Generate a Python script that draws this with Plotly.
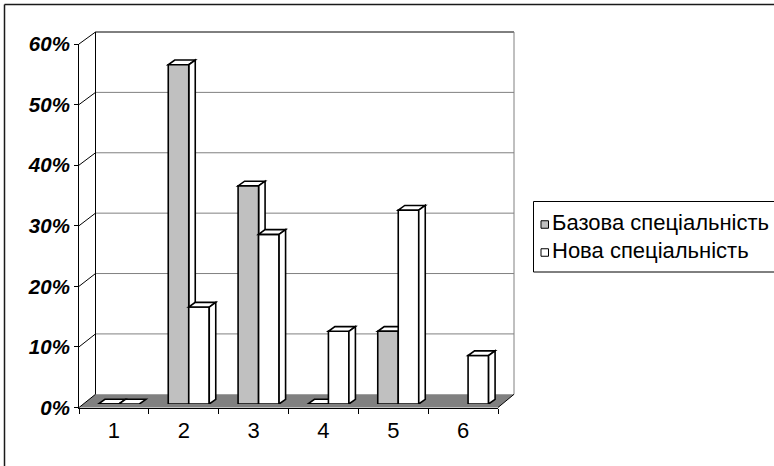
import plotly.graph_objects as go

# ---- data -------------------------------------------------------------
CATEGORIES = ["1", "2", "3", "4", "5", "6"]
SERIES_NAMES = ["Базова спеціальність", "Нова спеціальність"]
BASE_SPECIALTY = [0.0, 0.56, 0.36, 0.0, 0.12, None]
NEW_SPECIALTY = [0.0, 0.16, 0.28, 0.12, 0.32, 0.08]
Y_TICK_VALUES = [0.0, 0.1, 0.2, 0.3, 0.4, 0.5, 0.6]
Y_TICK_LABELS = ["0%", "10%", "20%", "30%", "40%", "50%", "60%"]
SERIES_COLORS = ["#c0c0c0", "#ffffff"]

# ---- geometry (pixels) ------------------------------------------------
W, H = 774, 466
Y_MAX = 0.6
FRONT_LEFT, FRONT_RIGHT = 79.0, 498.0
FRONT_BOTTOM, FRONT_TOP = 407.5, 44.0
BACK_LEFT, BACK_RIGHT = 95.5, 514.0
BACK_BOTTOM, BACK_TOP = 394.3, 32.0
ROW_DX, ROW_DY = 5.0, -3.5          # bar row sits slightly behind the front plane
BAR_DEPTH_X, BAR_DEPTH_Y = 6.5, 4.7  # visible depth of each column
GAP = 0.413
FONT = "Liberation Sans, Arial, sans-serif"

n = len(CATEGORIES)
bar_x = list(range(1, n + 1))
px_per_cat = (FRONT_RIGHT - FRONT_LEFT) / n
px_per_unit = (FRONT_BOTTOM - FRONT_TOP) / Y_MAX
bar_w = (1 - GAP) / 2
ddx = BAR_DEPTH_X / px_per_cat
ddy = BAR_DEPTH_Y / px_per_unit


def px(x):
    return x / W


def py(y):
    return (H - y) / H


def front_y(v):
    return FRONT_BOTTOM - v / Y_MAX * (FRONT_BOTTOM - FRONT_TOP)


def back_y(v):
    return BACK_BOTTOM - v / Y_MAX * (BACK_BOTTOM - BACK_TOP)


def paper_path(points):
    return "M " + " L ".join(f"{px(x):.5f},{py(y):.5f}" for x, y in points) + " Z"


shapes = []

# side wall (left)
shapes.append(dict(type="path", xref="paper", yref="paper", layer="below",
                   path=paper_path([(FRONT_LEFT, FRONT_TOP), (BACK_LEFT, BACK_TOP),
                                    (BACK_LEFT, BACK_BOTTOM), (FRONT_LEFT, FRONT_BOTTOM)]),
                   fillcolor="white", line=dict(width=0)))
# back wall
shapes.append(dict(type="rect", xref="paper", yref="paper", layer="below",
                   x0=px(BACK_LEFT), x1=px(BACK_RIGHT), y0=py(BACK_BOTTOM), y1=py(BACK_TOP),
                   fillcolor="white", line=dict(width=0)))
# floor
shapes.append(dict(type="path", xref="paper", yref="paper", layer="below",
                   path=paper_path([(FRONT_LEFT, FRONT_BOTTOM), (FRONT_RIGHT, FRONT_BOTTOM),
                                    (BACK_RIGHT, BACK_BOTTOM), (BACK_LEFT, BACK_BOTTOM)]),
                   fillcolor="#808080", line=dict(width=0)))


def paper_line(x0, y0, x1, y1, color, width=1, layer="below"):
    shapes.append(dict(type="line", xref="paper", yref="paper", layer=layer,
                       x0=px(x0), y0=py(y0), x1=px(x1), y1=py(y1),
                       line=dict(color=color, width=width)))


# gridlines on the back wall, diagonals on the side wall
for v in Y_TICK_VALUES[1:-1]:
    paper_line(BACK_LEFT, back_y(v), BACK_RIGHT, back_y(v), "#808080")
for v in Y_TICK_VALUES[1:]:
    paper_line(FRONT_LEFT, front_y(v), BACK_LEFT, back_y(v), "#000000")
paper_line(BACK_LEFT, BACK_TOP, BACK_RIGHT, BACK_TOP, "#000000")
paper_line(BACK_LEFT, BACK_TOP, BACK_LEFT, BACK_BOTTOM, "#000000")
paper_line(BACK_RIGHT, BACK_TOP, BACK_RIGHT, BACK_BOTTOM, "#808080")
paper_line(FRONT_LEFT, FRONT_BOTTOM, BACK_LEFT, BACK_BOTTOM, "#000000")
paper_line(FRONT_RIGHT, FRONT_BOTTOM, BACK_RIGHT, BACK_BOTTOM, "#000000")

# outer frame of the chart area
paper_line(4.5, 4.5, W + 2, 4.5, "#1a1a1a", 1.5, "above")
paper_line(4.5, 4.5, 4.5, H + 2, "#1a1a1a", 1.5, "above")


def data_path(points):
    return "M " + " L ".join(f"{x:.5f},{y:.5f}" for x, y in points) + " Z"


# top and side faces of the columns
for i, values in enumerate([BASE_SPECIALTY, NEW_SPECIALTY]):
    layer = "below" if i == 0 else "above"
    for c, v in zip(bar_x, values):
        if v is None:
            continue
        left = c - bar_w + i * bar_w
        right = left + bar_w
        top = [(left, v), (right, v), (right + ddx, v + ddy), (left + ddx, v + ddy)]
        shapes.append(dict(type="path", xref="x2", yref="y2", layer=layer,
                           path=data_path(top), fillcolor="white",
                           line=dict(color="black", width=1.6)))
        if v > 0:
            side = [(right, 0), (right, v), (right + ddx, v + ddy), (right + ddx, ddy)]
            shapes.append(dict(type="path", xref="x2", yref="y2", layer=layer,
                               path=data_path(side), fillcolor="white",
                               line=dict(color="black", width=1.6)))

# legend box
LEG_LEFT, LEG_TOP, LEG_BOTTOM = 533.5, 201.5, 272.0
shapes.append(dict(type="rect", xref="paper", yref="paper", layer="above",
                   x0=px(LEG_LEFT), x1=px(W + 10), y0=py(LEG_BOTTOM), y1=py(LEG_TOP),
                   fillcolor="rgba(0,0,0,0)", line=dict(color="black", width=1)))
legend_rows = [224.5, 252.5]
annotations = []
for name, color, yc in zip(SERIES_NAMES, SERIES_COLORS, legend_rows):
    shapes.append(dict(type="rect", xref="paper", yref="paper", layer="above",
                       x0=px(541), x1=px(548.5), y0=py(yc + 3.75), y1=py(yc - 3.75),
                       fillcolor=color, line=dict(color="black", width=1)))
    annotations.append(dict(xref="paper", yref="paper", x=px(549.5), y=py(yc - 2),
                            xanchor="left", yanchor="middle", showarrow=False,
                            text=name, font=dict(family=FONT, size=22, color="black")))

fig = go.Figure()

# anchor trace that gives the front category axis its categories
fig.add_trace(go.Scatter(x=CATEGORIES, y=[0] * n, mode="markers",
                         marker=dict(opacity=0), showlegend=False, hoverinfo="skip",
                         xaxis="x", yaxis="y"))

for i, (name, values, color) in enumerate(zip(SERIES_NAMES, [BASE_SPECIALTY, NEW_SPECIALTY],
                                              SERIES_COLORS)):
    fig.add_trace(go.Bar(x=bar_x, y=values, name=name, width=bar_w,
                         offset=-bar_w + i * bar_w,
                         marker=dict(color=color, line=dict(color="black", width=1.6)),
                         xaxis="x2", yaxis="y2", showlegend=False))

fig.update_layout(
    template="none",
    width=W, height=H,
    margin=dict(l=0, r=0, t=0, b=0, pad=0, autoexpand=False),
    paper_bgcolor="white", plot_bgcolor="rgba(0,0,0,0)",
    barmode="overlay",
    showlegend=False,
    shapes=shapes,
    annotations=annotations,
    xaxis=dict(domain=[px(FRONT_LEFT), px(FRONT_RIGHT)], type="category",
               categoryorder="array", categoryarray=CATEGORIES, range=[-0.5, n - 0.5],
               tickson="boundaries", ticks="outside", ticklen=5, tickcolor="black",
               tickwidth=1, showline=True, linecolor="black", linewidth=1,
               showgrid=False, zeroline=False, automargin=False,
               tickfont=dict(family=FONT, size=22, color="black"),
               ticklabelstandoff=3, anchor="y"),
    yaxis=dict(domain=[py(FRONT_BOTTOM), py(FRONT_TOP)], range=[0, Y_MAX],
               tickvals=Y_TICK_VALUES, ticktext=Y_TICK_LABELS,
               ticks="outside", ticklen=4, tickcolor="black", tickwidth=1,
               showline=True, linecolor="black", linewidth=1, showgrid=False,
               zeroline=False, anchor="x", automargin=False,
               tickfont=dict(family=FONT, size=20.5, color="black",
                             weight="bold", style="italic")),
    xaxis2=dict(domain=[px(FRONT_LEFT + ROW_DX), px(FRONT_RIGHT + ROW_DX)],
                range=[0.5, n + 0.5], visible=False, anchor="y2", automargin=False),
    yaxis2=dict(domain=[py(FRONT_BOTTOM + ROW_DY), py(FRONT_TOP + ROW_DY)],
                range=[0, Y_MAX], visible=False, anchor="x2", automargin=False),
)

fig.write_html("out.html")
